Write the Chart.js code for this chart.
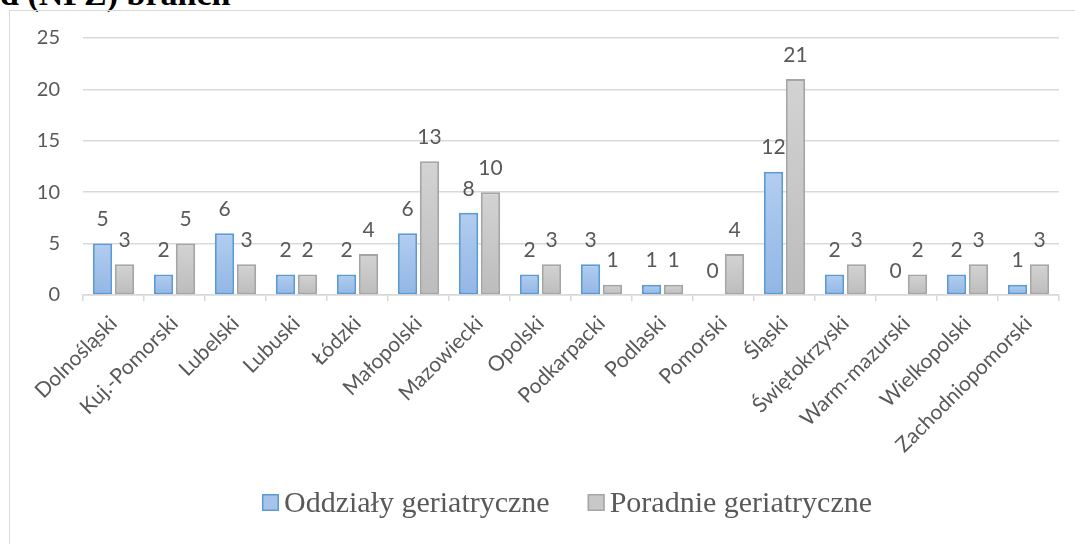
<!DOCTYPE html>
<html><head><meta charset="utf-8">
<script src="https://cdn.jsdelivr.net/npm/chart.js@4.4.0/dist/chart.umd.min.js"></script>
<style>
html,body{margin:0;padding:0;width:1075px;height:544px;overflow:hidden;background:#fff;}
#title{position:absolute;left:0;top:-23px;font:bold 34px "Liberation Serif",serif;line-height:34px;color:#000;white-space:nowrap;}
#frame{position:absolute;left:9px;top:10px;width:1100px;height:600px;border:1.5px solid #d9d9d9;box-sizing:border-box;}
#wrap{position:absolute;left:0;top:0;width:1075px;height:544px;}
</style></head><body>
<div id="title">d (NFZ) branch</div>
<div id="frame"></div>
<div id="wrap"><canvas id="c" width="1075" height="544"></canvas></div>
<script>
const categories = ['Dolnośląski','Kuj.-Pomorski','Lubelski','Lubuski','Łódzki','Małopolski','Mazowiecki','Opolski','Podkarpacki','Podlaski','Pomorski','Śląski','Świętokrzyski','Warm-mazurski','Wielkopolski','Zachodniopomorski'];
const wards = [5,2,6,2,2,6,8,2,3,1,0,12,2,0,2,1];
const clinics = [3,5,3,2,4,13,10,3,1,1,4,21,3,2,3,3];
const yTicks = [0,5,10,15,20,25];
const seriesNames = ['Oddziały geriatryczne','Poradnie geriatryczne'];

const TXT = '#595959';
const SANS = 'Lato';

function grad(top, bottom, fallback){
  return (c) => {
    const chart = c.chart;
    if (!chart.chartArea || c.raw === undefined) return fallback;
    const y = chart.scales.y;
    const yt = y.getPixelForValue(c.raw), yb = y.getPixelForValue(0);
    if (yb - yt < 1) return fallback;
    const g = chart.ctx.createLinearGradient(0, yt, 0, yb);
    g.addColorStop(0, top); g.addColorStop(1, bottom);
    return g;
  };
}

const valueLabels = {
  id: 'valueLabels',
  afterDatasetsDraw(chart){
    const ctx = chart.ctx; ctx.save();
    ctx.font = '21px ' + SANS; ctx.fillStyle = TXT;
    ctx.textAlign = 'center'; ctx.textBaseline = 'middle';
    chart.data.datasets.forEach((ds, i) => {
      chart.getDatasetMeta(i).data.forEach((bar, j) => {
        ctx.fillText(String(ds.data[j]), bar.x, bar.y - 24);
      });
    });
    ctx.restore();
  }
};

const legendSwatches = [
  {fill:'#a6c3ea', stroke:'#5b9bd5'},
  {fill:'#c8c8c8', stroke:'#a5a5a5'}
];
const customLegend = {
  id: 'customLegend',
  afterDraw(chart){
    const ctx = chart.ctx; ctx.save();
    ctx.font = '30px "Liberation Serif", serif';
    ctx.textBaseline = 'alphabetic';
    const box = 17, gap = 5, between = 38;
    const names = chart.data.datasets.map(d => d.label);
    const widths = names.map(n => ctx.measureText(n).width);
    const total = widths.reduce((a,w) => a + box + gap + w, 0) + between * (names.length - 1);
    let x = 567 - total / 2;
    const boxTop = 494, base = 512;
    names.forEach((n, i) => {
      ctx.fillStyle = legendSwatches[i].fill;
      ctx.fillRect(x, boxTop, box, box);
      ctx.strokeStyle = legendSwatches[i].stroke; ctx.lineWidth = 1.5;
      ctx.strokeRect(x + 0.75, boxTop + 0.75, box - 1.5, box - 1.5);
      ctx.fillStyle = TXT;
      ctx.fillText(n, x + box + gap, base);
      x += box + gap + widths[i] + between;
    });
    ctx.restore();
  }
};

new Chart(document.getElementById('c'), {
  type: 'bar',
  data: {
    labels: categories,
    datasets: [
      {label: seriesNames[0], data: wards,
       backgroundColor: grad('#b2cdf0', '#92b6e4', '#a6c3ea'),
       borderColor: '#5b9bd5', borderWidth: (c) => (c.raw ? 2 : 0), borderSkipped: false,
       categoryPercentage: 0.72, barPercentage: 0.88},
      {label: seriesNames[1], data: clinics,
       backgroundColor: grad('#d3d3d3', '#bcbcbc', '#c8c8c8'),
       borderColor: '#a5a5a5', borderWidth: (c) => (c.raw ? 2 : 0), borderSkipped: false,
       categoryPercentage: 0.72, barPercentage: 0.88}
    ]
  },
  options: {
    responsive: false,
    animation: false,
    layout: {padding: {left: 0, right: 16, top: 38, bottom: 64}},
    plugins: {legend: {display: false}, tooltip: {enabled: false}, title: {display: false}},
    scales: {
      x: {
        afterFit: (s) => { s.height = 185; },
        grid: {display: true, drawOnChartArea: false, drawTicks: true, tickLength: 6, color: '#d9d9d9', lineWidth: 1.5, offset: true},
        border: {display: true, color: '#d9d9d9', width: 1.5},
        ticks: {autoSkip: false, maxRotation: 45, minRotation: 45, color: TXT, font: {family: SANS, size: 21}, padding: 10}
      },
      y: {
        min: 0, max: 25,
        afterFit: (s) => { s.width = 83; },
        afterBuildTicks: (s) => { s.ticks = yTicks.map(v => ({value: v})); },
        grid: {color: '#d9d9d9', lineWidth: 1.5, drawTicks: false},
        border: {display: false},
        ticks: {color: TXT, font: {family: SANS, size: 20}, padding: 23}
      }
    }
  },
  plugins: [valueLabels, customLegend]
});
</script>
</body></html>
